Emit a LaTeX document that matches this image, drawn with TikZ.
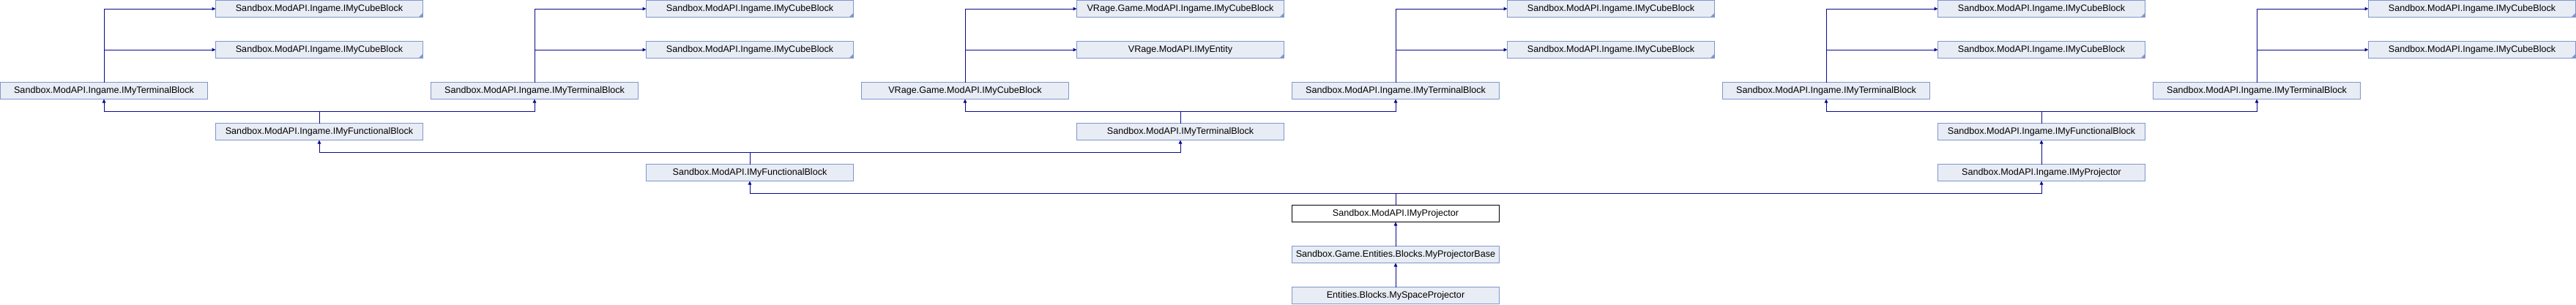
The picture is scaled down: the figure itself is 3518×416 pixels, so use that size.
\documentclass[tikz,border=0pt]{standalone}
\usepackage{fontspec}
\setmainfont{Liberation Sans}
\usetikzlibrary{arrows.meta}
\definecolor{boxfill}{HTML}{E8ECF5}
\definecolor{boxline}{HTML}{7F96CB}
\definecolor{edgecol}{HTML}{0A0A8C}
\tikzset{
  box/.style={draw=boxline, fill=boxfill, line width=1bp, minimum width=283bp, minimum height=23bp,
    inner sep=0pt, outer sep=0pt, anchor=north west, font=\fontsize{12.6bp}{15bp}\selectfont},
  mainbox/.style={box, draw=black, fill=white},
  edge/.style={draw=edgecol, line width=1bp, -{Triangle[length=5bp,width=4.5bp]}}
}
\begin{document}
\begin{tikzpicture}[x=1bp,y=-1bp]
\fill[white] (0,0) rectangle (3518,416);
\useasboundingbox (0,0) rectangle (3518,416);
% row 1
\node[box] (c1a) at (294.5,0.5) {Sandbox.ModAPI.Ingame.IMyCubeBlock};
\node[box] (c3a) at (882.5,0.5) {Sandbox.ModAPI.Ingame.IMyCubeBlock};
\node[box] (v5a) at (1470.5,0.5) {VRage.Game.ModAPI.Ingame.IMyCubeBlock};
\node[box] (c7a) at (2058.5,0.5) {Sandbox.ModAPI.Ingame.IMyCubeBlock};
\node[box] (c9a) at (2646.5,0.5) {Sandbox.ModAPI.Ingame.IMyCubeBlock};
\node[box] (c11a) at (3234.5,0.5) {Sandbox.ModAPI.Ingame.IMyCubeBlock};
% row 2
\node[box] (c1b) at (294.5,56.5) {Sandbox.ModAPI.Ingame.IMyCubeBlock};
\node[box] (c3b) at (882.5,56.5) {Sandbox.ModAPI.Ingame.IMyCubeBlock};
\node[box] (v5b) at (1470.5,56.5) {VRage.ModAPI.IMyEntity};
\node[box] (c7b) at (2058.5,56.5) {Sandbox.ModAPI.Ingame.IMyCubeBlock};
\node[box] (c9b) at (2646.5,56.5) {Sandbox.ModAPI.Ingame.IMyCubeBlock};
\node[box] (c11b) at (3234.5,56.5) {Sandbox.ModAPI.Ingame.IMyCubeBlock};
% row 3
\node[box] (t0) at (0.5,112.5) {Sandbox.ModAPI.Ingame.IMyTerminalBlock};
\node[box] (t2) at (588.5,112.5) {Sandbox.ModAPI.Ingame.IMyTerminalBlock};
\node[box] (vc4) at (1176.5,112.5) {VRage.Game.ModAPI.IMyCubeBlock};
\node[box] (t6) at (1764.5,112.5) {Sandbox.ModAPI.Ingame.IMyTerminalBlock};
\node[box] (t8) at (2352.5,112.5) {Sandbox.ModAPI.Ingame.IMyTerminalBlock};
\node[box] (t10) at (2940.5,112.5) {Sandbox.ModAPI.Ingame.IMyTerminalBlock};
% row 4
\node[box] (f1) at (294.5,168.5) {Sandbox.ModAPI.Ingame.IMyFunctionalBlock};
\node[box] (st5) at (1470.5,168.5) {Sandbox.ModAPI.IMyTerminalBlock};
\node[box] (f9) at (2646.5,168.5) {Sandbox.ModAPI.Ingame.IMyFunctionalBlock};
% row 5
\node[box] (sf3) at (882.5,224.5) {Sandbox.ModAPI.IMyFunctionalBlock};
\node[box] (ip9) at (2646.5,224.5) {Sandbox.ModAPI.Ingame.IMyProjector};
% rows 6-8
\node[mainbox] (proj) at (1764.5,280.5) {Sandbox.ModAPI.IMyProjector};
\node[box] (base) at (1764.5,336.5) {Sandbox.Game.Entities.Blocks.MyProjectorBase};
\node[box] (space) at (1764.5,392.5) {Entities.Blocks.MySpaceProjector};
% truncation marks
\foreach \n in {c1a,c3a,v5a,c7a,c9a,c11a,c1b,c3b,v5b,c7b,c9b,c11b}
  \fill[boxline] (\n.south east) -- ++(-6,0) -- ++(6,-6) -- cycle;
% edges: top
\foreach \s/\a/\b in {t0/c1a/c1b, t2/c3a/c3b, vc4/v5a/v5b, t6/c7a/c7b, t8/c9a/c9b, t10/c11a/c11b}{
  \draw[edge] (\s.north) |- (\a.west);
  \draw[edge] (\s.north) |- (\b.west);
}
% level 3-4
\draw[edge] (f1.north) -- ++(0,-16.5) -| (t0.south);
\draw[edge] (f1.north) -- ++(0,-16.5) -| (t2.south);
\draw[edge] (st5.north) -- ++(0,-16.5) -| (vc4.south);
\draw[edge] (st5.north) -- ++(0,-16.5) -| (t6.south);
\draw[edge] (f9.north) -- ++(0,-16.5) -| (t8.south);
\draw[edge] (f9.north) -- ++(0,-16.5) -| (t10.south);
% level 4-5
\draw[edge] (sf3.north) -- ++(0,-16.5) -| (f1.south);
\draw[edge] (sf3.north) -- ++(0,-16.5) -| (st5.south);
\draw[edge] (ip9.north) -- (f9.south);
% level 5-6
\draw[edge] (proj.north) -- ++(0,-16.5) -| (sf3.south);
\draw[edge] (proj.north) -- ++(0,-16.5) -| (ip9.south);
% lower
\draw[edge] (base.north) -- (proj.south);
\draw[edge] (space.north) -- (base.south);
\end{tikzpicture}
\end{document}
